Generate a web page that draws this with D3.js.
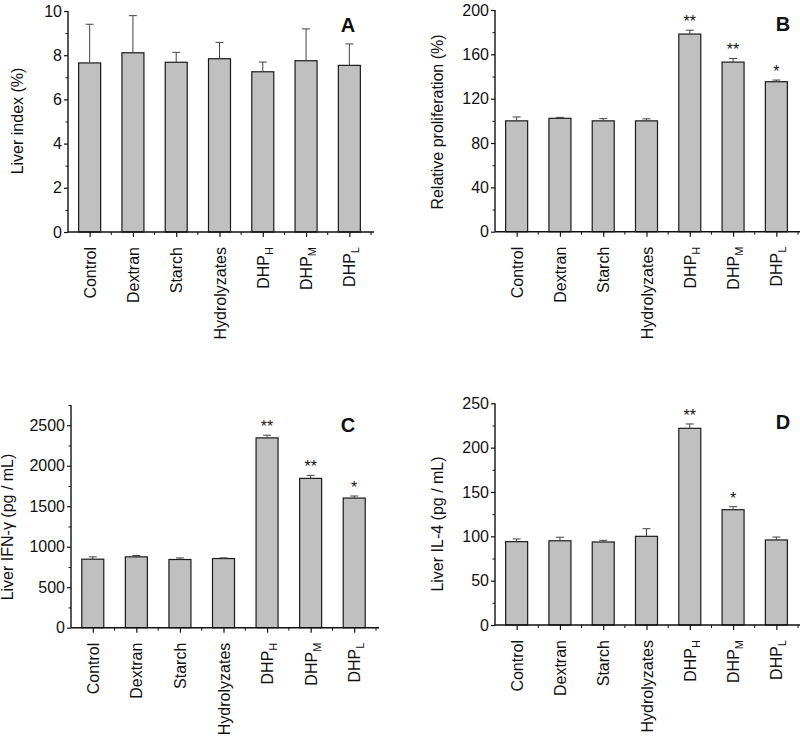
<!DOCTYPE html>
<html><head><meta charset="utf-8">
<script src="https://cdn.jsdelivr.net/npm/d3@7"></script>
<style>
body{margin:0;background:#fff;}
text{font-family:"Liberation Sans",Arial,sans-serif;fill:#111;}
</style></head>
<body><svg id="c" width="800" height="739"></svg>
<script>
const categories = ["Control","Dextran","Starch","Hydrolyzates","DHP_H","DHP_M","DHP_L"];
const liverIndex = [7.65, 8.11, 7.68, 7.84, 7.25, 7.75, 7.54];
const liverIndexErr = [1.75, 1.68, 0.45, 0.74, 0.44, 1.44, 0.97];
const proliferation = [100, 102.3, 100, 100, 178.3, 153, 135.3];
const proliferationErr = [3.5, 0.9, 2.0, 1.8, 3.5, 3.3, 1.5];
const proliferationSig = ["", "", "", "", "**", "**", "*"];
const ifng = [846, 875, 842, 854, 2344, 1844, 1601];
const ifngErr = [29, 16, 20, 8, 33, 37, 25];
const ifngSig = ["", "", "", "", "**", "**", "*"];
const il4 = [94, 95, 93.6, 100, 221.8, 130, 95.9];
const il4Err = [3, 4, 1.9, 8.6, 4.9, 3.4, 3.3];
const il4Sig = ["", "", "", "", "**", "*", ""];
const panelA = {ticks:[0,2,4,6,8,10], minor:[1,3,5,7,9], max:10, title:"Liver index (%)", letter:"A"};
const panelB = {ticks:[0,40,80,120,160,200], minor:[20,60,100,140,180], max:200, title:"Relative proliferation (%)", letter:"B"};
const panelC = {ticks:[0,500,1000,1500,2000,2500], minor:[250,750,1250,1750,2250,2750], max:2750, title:"Liver IFN-\u03b3 (pg / mL)", letter:"C"};
const panelD = {ticks:[0,50,100,150,200,250], minor:[25,75,125,175,225], max:250, title:"Liver IL-4 (pg / mL)", letter:"D"};

const svg = d3.select("#c");

function panel(cfg, vals, errs, sig, lay){
  const g = svg.append("g");
  const x = d3.scalePoint().domain(categories).range([lay.left, lay.right]).padding(0.5);
  const y = d3.scaleLinear().domain([0, cfg.max]).range([lay.bottom, lay.top]);
  const bw = 22;
  g.selectAll("rect.bar").data(categories).join("rect")
    .attr("x", d => x(d) - bw/2).attr("width", bw)
    .attr("y", (d,i) => y(vals[i])).attr("height", (d,i) => y(0) - y(vals[i]))
    .attr("fill", "#c0c0c0").attr("stroke", "#1a1a1a").attr("stroke-width", 1.2);
  const eb = g.selectAll("g.eb").data(categories).join("g");
  eb.append("line").attr("x1", d => x(d)).attr("x2", d => x(d))
    .attr("y1", (d,i) => y(vals[i])).attr("y2", (d,i) => y(vals[i] + errs[i]))
    .attr("stroke", "#444").attr("stroke-width", 1);
  eb.append("line").attr("x1", d => x(d) - 4).attr("x2", d => x(d) + 4)
    .attr("y1", (d,i) => y(vals[i] + errs[i])).attr("y2", (d,i) => y(vals[i] + errs[i]))
    .attr("stroke", "#444").attr("stroke-width", 1);
  if (sig) {
    g.selectAll("text.sig").data(categories).join("text")
      .attr("x", d => x(d)).attr("y", (d,i) => y(vals[i] + errs[i]) - 3)
      .attr("text-anchor", "middle").attr("font-size", 16)
      .text((d,i) => sig[i]);
  }
  const ya = d3.axisLeft(y).tickValues(cfg.ticks).tickFormat(d3.format("d")).tickSize(4).tickPadding(2).tickSizeOuter(0);
  const yg = g.append("g").attr("transform", `translate(${lay.left},0)`).call(ya);
  yg.select(".domain").attr("stroke", "#111").attr("stroke-width", 1.4)
    .attr("d", `M0,${lay.bottom}V${lay.top}`);
  yg.selectAll(".tick line").attr("stroke", "#111").attr("stroke-width", 1.2);
  yg.selectAll(".tick text").attr("font-size", 16).attr("fill", "#111")
    .attr("font-family", "'Liberation Sans',Arial,sans-serif");
  const ym = d3.axisLeft(y).tickValues(cfg.minor).tickSize(2.5).tickFormat("");
  const ymg = g.append("g").attr("transform", `translate(${lay.left},0)`).call(ym);
  ymg.select(".domain").remove();
  ymg.selectAll(".tick line").attr("stroke", "#111").attr("stroke-width", 1);
  const xa = d3.axisBottom(x).tickSize(5).tickFormat("").tickSizeOuter(0);
  const xg = g.append("g").attr("transform", `translate(0,${lay.bottom})`).call(xa);
  xg.select(".domain").attr("stroke", "#111").attr("stroke-width", 1.4)
    .attr("d", `M${lay.left},0H${lay.right + 3}`);
  xg.selectAll(".tick line").attr("stroke", "#111").attr("stroke-width", 1.2);
  const step = x.step();
  const mids = categories.map(c => x(c) + step/2);
  g.selectAll("line.mx").data(mids).join("line")
    .attr("x1", d => d).attr("x2", d => d).attr("y1", lay.bottom).attr("y2", lay.bottom + 3)
    .attr("stroke", "#111").attr("stroke-width", 1);
  const lab = g.selectAll("text.cat").data(categories).join("text")
    .attr("transform", d => `translate(${x(d) + 6},${lay.bottom + 15}) rotate(-90)`)
    .attr("text-anchor", "end").attr("font-size", 16);
  lab.each(function(d){
    const t = d3.select(this);
    const parts = d.split("_");
    t.append("tspan").text(parts[0]);
    if (parts[1]) t.append("tspan").attr("font-size", 11).attr("dy", 4).text(parts[1]);
  });
  g.append("text").attr("transform", `translate(${lay.titleX},${lay.titleY}) rotate(-90)`)
    .attr("text-anchor", "middle").attr("font-size", 16).text(cfg.title);
  g.append("text").attr("x", lay.letterX).attr("y", lay.letterY)
    .attr("text-anchor", "middle").attr("font-size", lay.letterSize).attr("font-weight", "bold")
    .attr("font-family", lay.letterFont).text(cfg.letter);
}

panel(panelA, liverIndex, liverIndexErr, null,
  {left:68, right:371, top:11, bottom:232, titleX:23, titleY:121, letterX:348, letterY:32, letterSize:20, letterFont:"'Liberation Sans',Arial,sans-serif"});
panel(panelB, proliferation, proliferationErr, proliferationSig,
  {left:495, right:798, top:10, bottom:231.7, titleX:443, titleY:122, letterX:783, letterY:31, letterSize:20, letterFont:"'Liberation Sans',Arial,sans-serif"});
panel(panelC, ifng, ifngErr, ifngSig,
  {left:71, right:376, top:405, bottom:627.7, titleX:13, titleY:527, letterX:348, letterY:432, letterSize:20, letterFont:"'Liberation Sans Narrow','DejaVu Sans Condensed',sans-serif"});
panel(panelD, il4, il4Err, il4Sig,
  {left:495, right:798, top:403.3, bottom:625, titleX:443, titleY:524, letterX:783, letterY:429, letterSize:20, letterFont:"'Liberation Sans Narrow','DejaVu Sans Condensed',sans-serif"});
</script></body></html>
